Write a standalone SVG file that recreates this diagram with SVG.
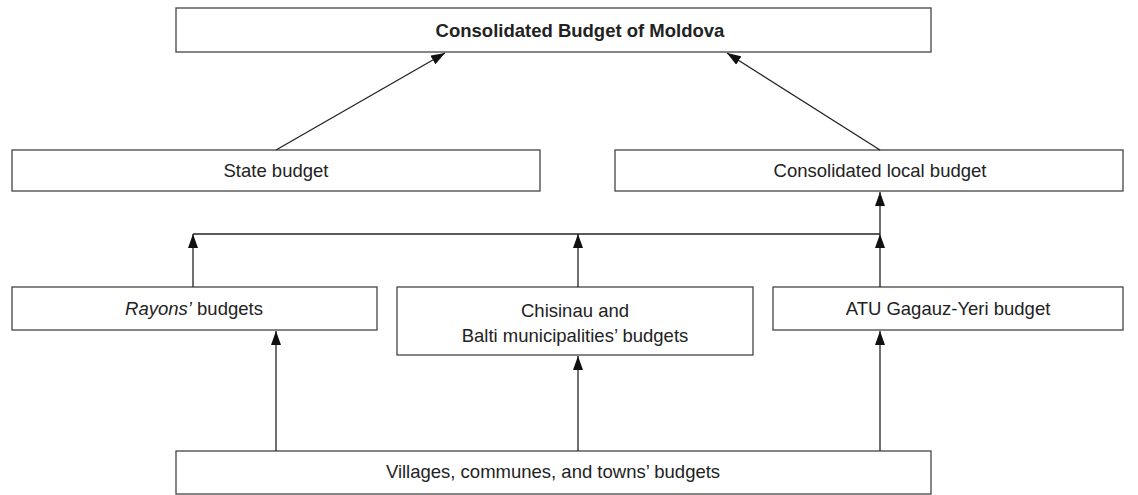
<svg xmlns="http://www.w3.org/2000/svg" width="1138" height="495" viewBox="0 0 1138 495">
<style>
.box{fill:#fff;stroke:#444;stroke-width:1.3}
.t{font-family:"Liberation Sans",Arial,sans-serif;font-size:18.5px;fill:#222;text-anchor:middle}
.b{font-weight:bold}
.c{stroke:#222;stroke-width:1.3;fill:none}
</style>
<defs>
<marker id="a" viewBox="0 0 14 10" refX="14" refY="5" markerWidth="14" markerHeight="10" markerUnits="userSpaceOnUse" orient="auto">
<path d="M0,0 L14,5 L0,10 z" fill="#111"/>
</marker>
</defs>
<g id="n-top"><rect class="box" x="176" y="8" width="755" height="44"/><text class="t b" x="580" y="37">Consolidated Budget of Moldova</text></g>
<g id="n-state"><rect class="box" x="12" y="150" width="528" height="41"/><text class="t" x="276" y="177">State budget</text></g>
<g id="n-local"><rect class="box" x="615" y="150" width="508" height="41"/><text class="t" x="880" y="177">Consolidated local budget</text></g>
<g id="n-rayons"><rect class="box" x="12" y="287" width="365" height="43"/><text class="t" x="194" y="315"><tspan font-style="italic">Rayons’</tspan> budgets</text></g>
<g id="n-chis"><rect class="box" x="397" y="287" width="356" height="68"/><text class="t" x="575" y="317">Chisinau and</text><text class="t" x="575" y="342">Balti municipalities’ budgets</text></g>
<g id="n-atu"><rect class="box" x="773" y="287" width="350" height="43"/><text class="t" x="948" y="315">ATU Gagauz-Yeri budget</text></g>
<g id="n-vill"><rect class="box" x="176" y="451" width="755" height="43"/><text class="t" x="553" y="478">Villages, communes, and towns’ budgets</text></g>
<g id="connectors">
<line class="c" x1="276" y1="150" x2="445" y2="53" marker-end="url(#a)"/>
<line class="c" x1="880" y1="150" x2="727" y2="53" marker-end="url(#a)"/>
<line class="c" x1="880" y1="234" x2="880" y2="192" marker-end="url(#a)"/>
<line class="c" x1="193" y1="234" x2="880" y2="234"/>
<line class="c" x1="193" y1="287" x2="193" y2="234" marker-end="url(#a)"/>
<line class="c" x1="578" y1="287" x2="578" y2="234" marker-end="url(#a)"/>
<line class="c" x1="880" y1="287" x2="880" y2="234" marker-end="url(#a)"/>
<line class="c" x1="276" y1="451" x2="276" y2="331" marker-end="url(#a)"/>
<line class="c" x1="578" y1="451" x2="578" y2="356" marker-end="url(#a)"/>
<line class="c" x1="880" y1="451" x2="880" y2="331" marker-end="url(#a)"/>
</g>
</svg>
